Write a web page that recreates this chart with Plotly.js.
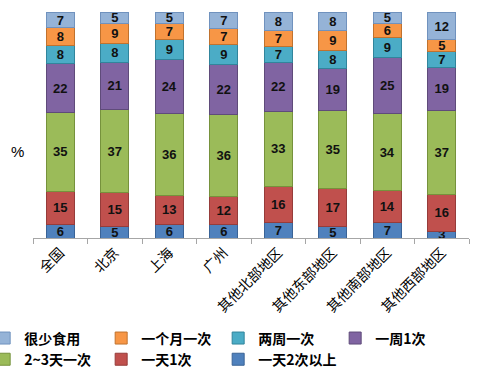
<!DOCTYPE html>
<html><head><meta charset="utf-8">
<script src="https://cdn.plot.ly/plotly-3.0.1.min.js"></script>
<style>html,body{margin:0;padding:0;background:#fff}#chart{width:480px;height:373px}</style>
</head><body><div id="chart"></div>
<script>
const categories = ['全国','北京','上海','广州','其他北部地区','其他东部地区','其他南部地区','其他西部地区'];
const seriesNames = ['一天2次以上','一天1次','2~3天一次','一周1次','两周一次','一个月一次','很少食用'];
const twicePlusDaily = [6,5,6,6,7,5,7,3];
const onceDaily = [15,15,13,12,16,17,14,16];
const every2to3Days = [35,37,36,36,33,35,34,37];
const oncePerWeek = [22,21,24,22,22,19,25,19];
const every2Weeks = [8,8,9,9,7,8,9,7];
const oncePerMonth = [8,9,7,7,7,9,6,5];
const rarely = [7,5,5,7,8,8,5,12];
const seriesValues = [twicePlusDaily, onceDaily, every2to3Days, oncePerWeek, every2Weeks, oncePerMonth, rarely];
const colors = ['#4F81BD','#C0504D','#9BBB59','#8064A2','#4BACC6','#F79646','#95B3D7'];
const edge = ['#3A6396','#963C3A','#76923C','#5F4B7A','#31859C','#C0722E','#7092BE'];

const traces = seriesValues.map((vals, i) => ({
  type: 'bar',
  name: seriesNames[i],
  x: categories,
  y: vals,
  text: vals.map(String),
  textposition: 'inside',
  insidetextanchor: 'middle',
  textangle: 0,
  constraintext: 'none',
  cliponaxis: false,
  textfont: {family: 'Liberation Sans, Arial, sans-serif', size: 13, color: '#111', weight: 'bold'},
  marker: {color: colors[i], line: {color: edge[i], width: 1}},
  hoverinfo: 'skip'
}));

const layout = {
  width: 480, height: 373,
  margin: {l: 33, r: 11, t: 11, b: 135, autoexpand: false},
  barmode: 'stack',
  barnorm: 'percent',
  bargap: 0.48,
  paper_bgcolor: '#fff', plot_bgcolor: '#fff',
  showlegend: true,
  legend: {
    orientation: 'h', traceorder: 'reversed',
    x: -0.112, xanchor: 'left', y: -0.372, yanchor: 'top',
    entrywidth: 72, entrywidthmode: 'pixels',
    itemwidth: 30,
    font: {family: 'Noto Sans CJK SC, sans-serif', size: 14, color: '#000', weight: 'bold'},
    tracegroupgap: 0
  },
  xaxis: {
    type: 'category',
    showline: true, linecolor: '#A6A6A6', linewidth: 1,
    ticks: 'outside', tickson: 'boundaries', ticklen: 5, tickcolor: '#A6A6A6',
    tickangle: -45,
    tickfont: {family: 'Noto Sans CJK SC, sans-serif', size: 14, color: '#000'},
    showgrid: false
  },
  yaxis: {
    range: [0, 100.6], showticklabels: false, showgrid: false, zeroline: false,
    showline: false, ticks: ''
  },
  annotations: [{
    text: '%', xref: 'paper', yref: 'paper', x: -0.055, y: 0.38,
    showarrow: false, font: {family: 'Liberation Sans, Arial, sans-serif', size: 15, color: '#000'}
  }]
};

Plotly.newPlot('chart', traces, layout, {displayModeBar: false, staticPlot: true});
</script></body></html>
